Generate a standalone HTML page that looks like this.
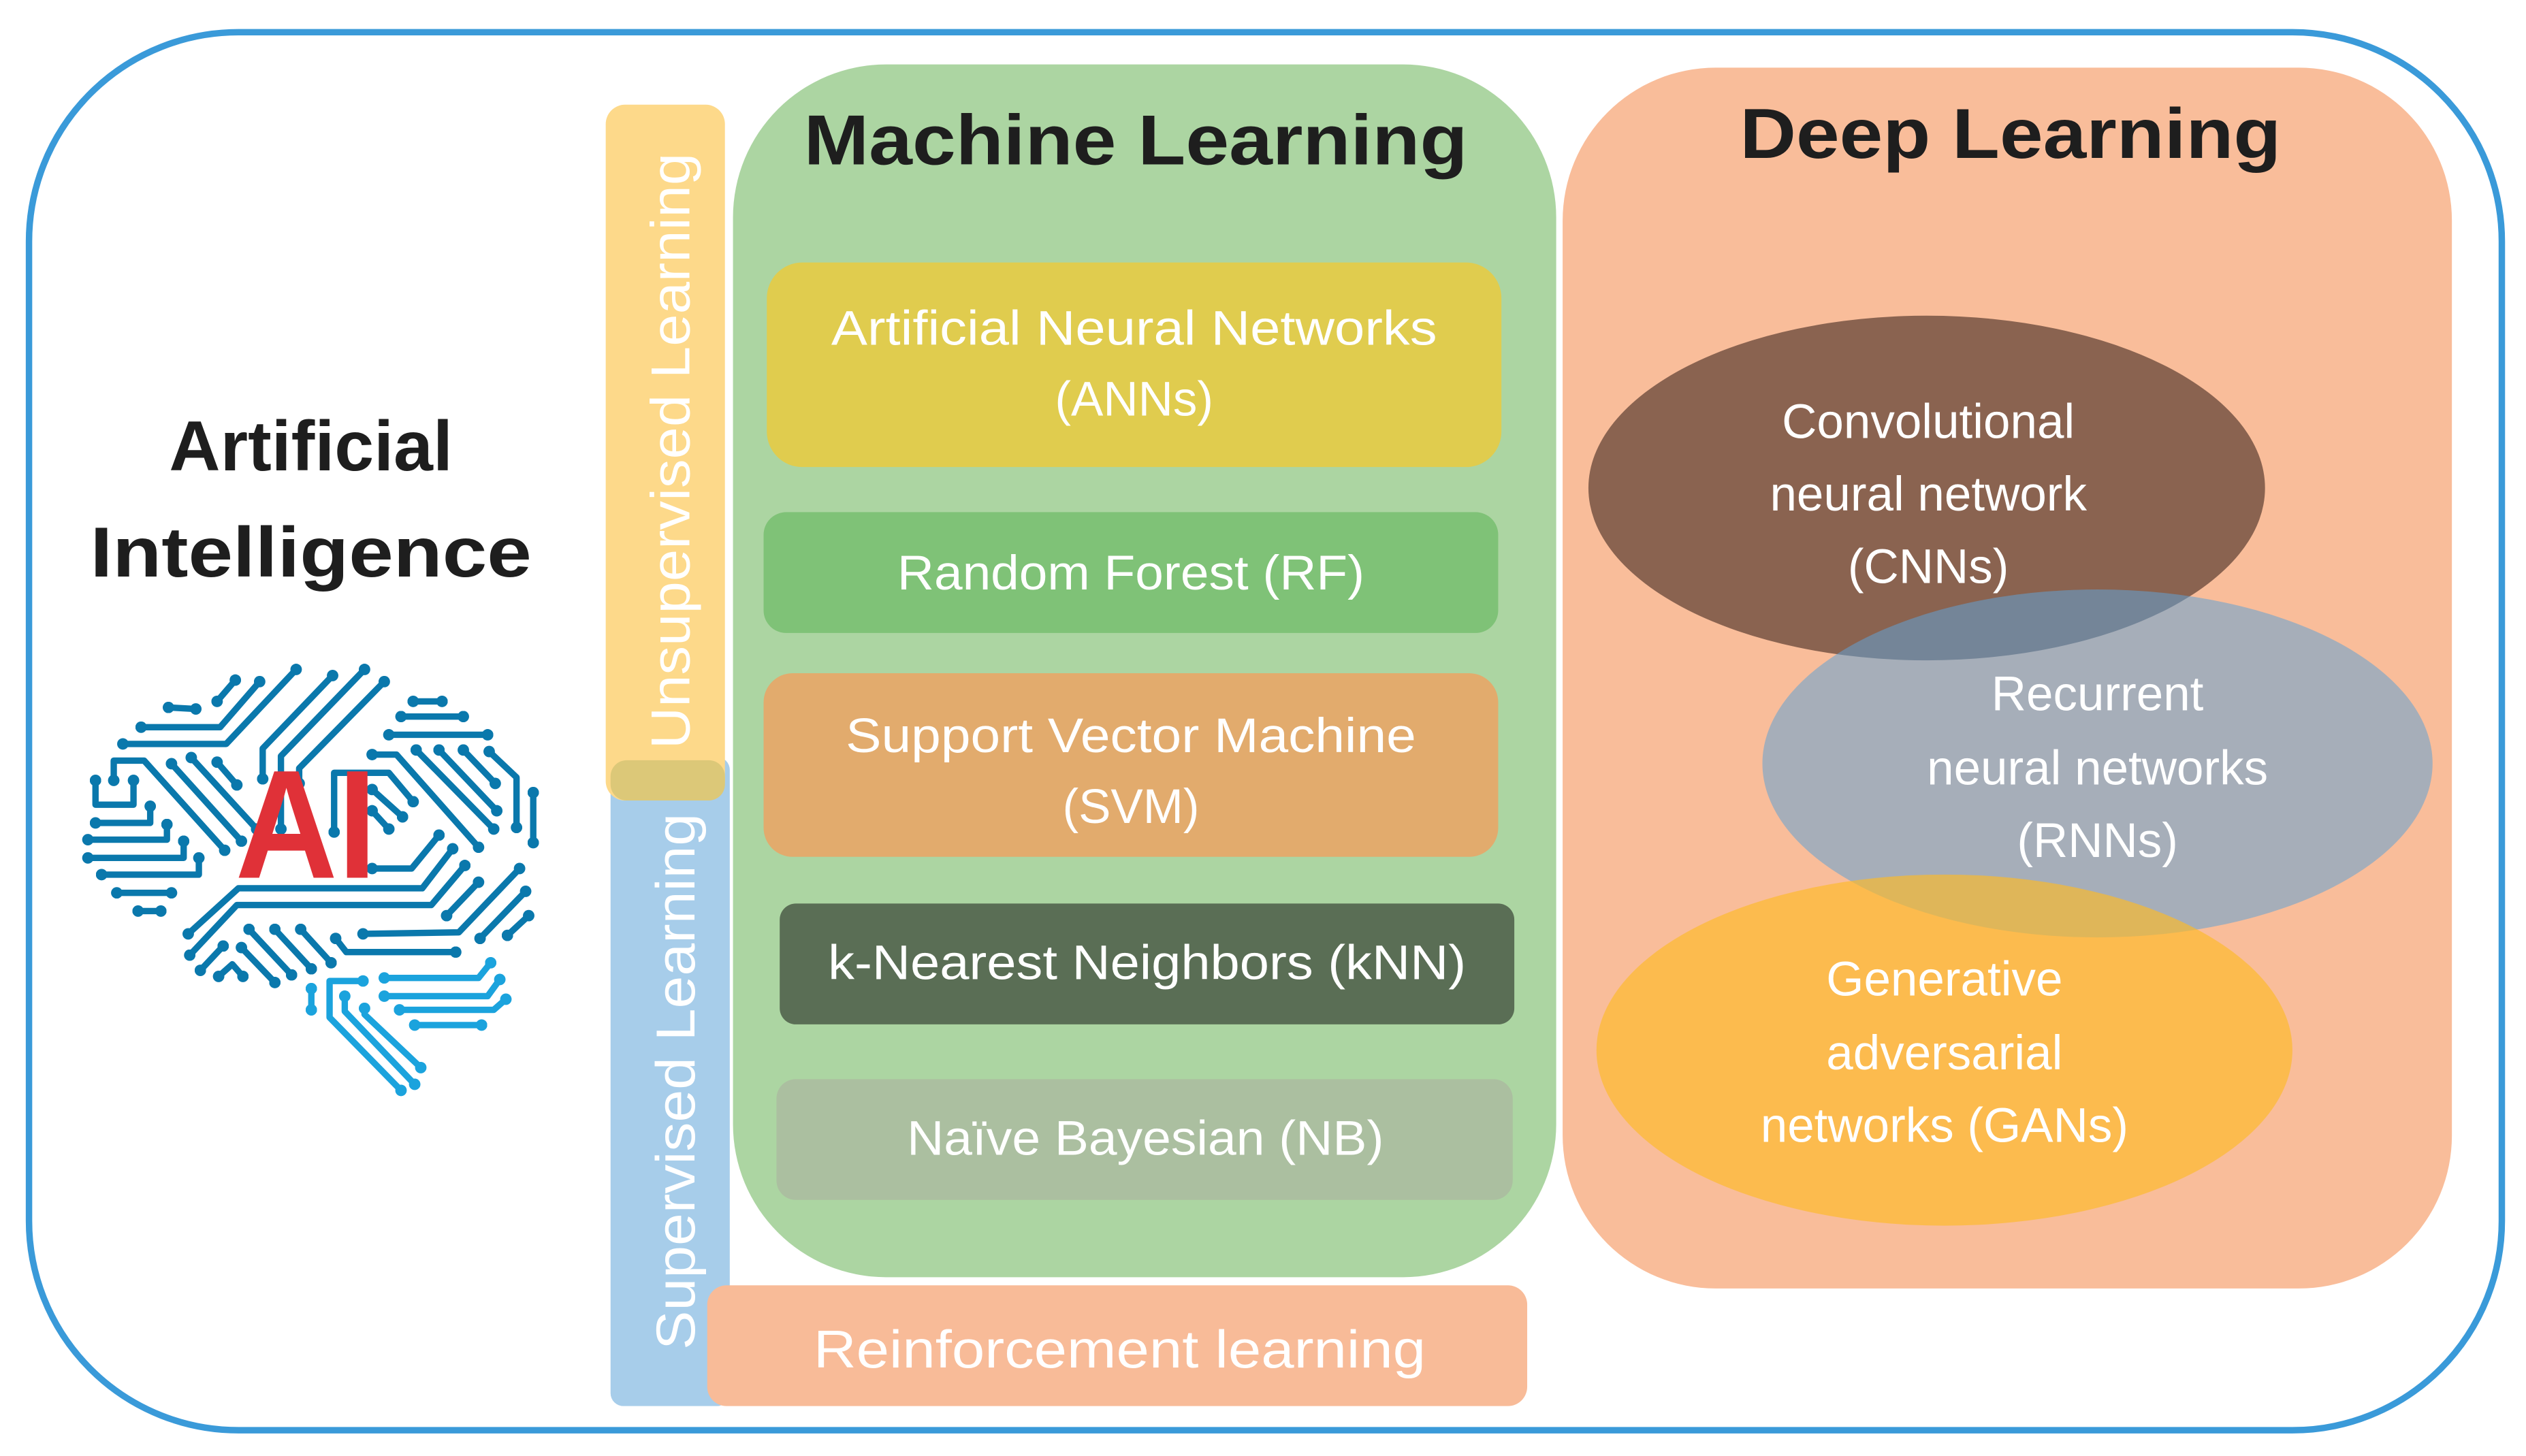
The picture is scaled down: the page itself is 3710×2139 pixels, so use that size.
<!DOCTYPE html>
<html><head><meta charset="utf-8"><style>
html,body{margin:0;padding:0;background:#fff;width:3710px;height:2139px;overflow:hidden}
svg{display:block}
text{font-family:"Liberation Sans",sans-serif}
</style></head><body>
<svg width="3710" height="2139" viewBox="0 0 1568 904" preserveAspectRatio="none" xmlns="http://www.w3.org/2000/svg">
<defs>
<marker id="d1" viewBox="-10 -10 20 20" markerWidth="1.8" markerHeight="1.8" markerUnits="strokeWidth"><circle r="10" fill="#0a78ac"/></marker>
<marker id="d2" viewBox="-10 -10 20 20" markerWidth="1.8" markerHeight="1.8" markerUnits="strokeWidth"><circle r="10" fill="#1ba3dd"/></marker>
</defs>
<rect x="18" y="20" width="1535" height="868" rx="130" ry="130" fill="#fff" stroke="#3a9ad9" stroke-width="4"/>

<text x="193" y="292" font-size="44" font-weight="bold" text-anchor="middle" fill="#1e1e1e">Artificial</text>
<text x="193" y="358" font-size="44" font-weight="bold" text-anchor="middle" fill="#1e1e1e" textLength="274" lengthAdjust="spacingAndGlyphs">Intelligence</text>

<g transform="translate(42.3,401.5) scale(0.1887)" fill="none" stroke-width="21" stroke-linejoin="round">
<g stroke="#0a78ac" marker-start="url(#d1)" marker-end="url(#d1)">
<polyline points="750,75 520,320 180,320"/>
<polyline points="630,115 500,265 240,265"/>
<polyline points="550,110 490,180"/>
<polyline points="330,200 420,205"/>
<polyline points="870,95 640,335 640,435"/>
<polyline points="975,75 700,360 700,600"/>
<polyline points="1040,115 760,400 760,450"/>
<polyline points="150,440 150,375 250,375 515,670"/>
<polyline points="340,385 570,640"/>
<polyline points="405,365 620,600"/>
<polyline points="490,380 555,455"/>
<polyline points="90,440 90,520 215,520 215,440"/>
<polyline points="90,580 270,580 270,525"/>
<polyline points="65,635 325,635 325,585"/>
<polyline points="65,695 380,695 380,640"/>
<polyline points="110,750 430,750 430,695"/>
<polyline points="160,810 340,810"/>
<polyline points="230,870 305,870"/>
<polyline points="1135,180 1230,180"/>
<polyline points="1095,230 1300,230"/>
<polyline points="1055,290 1380,290"/>
<polyline points="1000,355 1080,355 1350,660"/>
<polyline points="1145,340 1400,600"/>
<polyline points="1220,340 1410,540"/>
<polyline points="1300,340 1405,450"/>
<polyline points="1385,345 1475,430 1475,595"/>
<polyline points="1530,480 1530,645"/>
<polyline points="875,610 875,415 1055,415 1135,510"/>
<polyline points="1000,470 1100,560"/>
<polyline points="1000,540 1055,600"/>
<polyline points="1220,620 1130,730 1000,730"/>
<polyline points="1265,665 1165,795 560,795 395,945"/>
<polyline points="1305,720 1195,850 555,850 400,1015"/>
<polyline points="1350,775 1245,885"/>
<polyline points="1485,730 1285,940 970,945"/>
<polyline points="1505,805 1355,960"/>
<polyline points="1515,885 1445,950"/>
<polyline points="880,960 915,1005 1275,1005"/>
<polyline points="595,930 735,1080"/>
<polyline points="680,930 800,1060"/>
<polyline points="765,930 865,1040"/>
<polyline points="570,990 680,1105"/>
<polyline points="510,985 435,1065"/>
<polyline points="495,1085 540,1045 575,1085"/>
</g>
<g stroke="#1ba3dd" marker-start="url(#d2)" marker-end="url(#d2)">
<polyline points="970,1100 860,1100 860,1220 1095,1460"/>
<polyline points="910,1150 910,1200 1140,1440"/>
<polyline points="975,1190 975,1210 1160,1385"/>
<polyline points="800,1125 800,1195"/>
<polyline points="1040,1090 1350,1090 1390,1040"/>
<polyline points="1040,1150 1380,1150 1420,1095"/>
<polyline points="1090,1195 1400,1195 1440,1160"/>
<polyline points="1140,1245 1360,1245"/>
</g>
</g>
<text x="190" y="545" font-size="96" font-weight="bold" text-anchor="middle" fill="#e03138" textLength="88" lengthAdjust="spacingAndGlyphs">AI</text>

<rect x="379" y="470" width="74" height="403" rx="8" fill="#a7cdea"/>
<rect x="376" y="65" width="74" height="432" rx="12" fill="#fdd98a"/>
<rect x="379" y="472" width="71" height="25" rx="10" fill="#dcc878"/>
<text transform="translate(428,465) rotate(-90)" font-size="34" fill="#fff" textLength="370" lengthAdjust="spacingAndGlyphs">Unsupervised Learning</text>
<text transform="translate(431,838) rotate(-90)" font-size="34" fill="#fff" textLength="333" lengthAdjust="spacingAndGlyphs">Supervised Learning</text>

<rect x="455" y="40" width="511" height="753" rx="95" fill="#acd5a2"/>
<text x="705" y="102" font-size="44" font-weight="bold" text-anchor="middle" fill="#1e1e1e" textLength="412" lengthAdjust="spacingAndGlyphs">Machine Learning</text>
<rect x="476" y="163" width="456" height="127" rx="22" fill="#e0cc4e"/>
<text x="704" y="214" font-size="30" text-anchor="middle" fill="#fff" textLength="376" lengthAdjust="spacingAndGlyphs">Artificial Neural Networks</text>
<text x="704" y="258" font-size="30" text-anchor="middle" fill="#fff">(ANNs)</text>
<rect x="474" y="318" width="456" height="75" rx="14" fill="#7fc277"/>
<text x="702" y="366" font-size="30" text-anchor="middle" fill="#fff" textLength="290" lengthAdjust="spacingAndGlyphs">Random Forest (RF)</text>
<rect x="474" y="418" width="456" height="114" rx="18" fill="#e2ab6d"/>
<text x="702" y="467" font-size="30" text-anchor="middle" fill="#fff" textLength="354" lengthAdjust="spacingAndGlyphs">Support Vector Machine</text>
<text x="702" y="511" font-size="30" text-anchor="middle" fill="#fff">(SVM)</text>
<rect x="484" y="561" width="456" height="75" rx="10" fill="#5a6e55"/>
<text x="712" y="608" font-size="30" text-anchor="middle" fill="#fff" textLength="396" lengthAdjust="spacingAndGlyphs">k-Nearest Neighbors (kNN)</text>
<rect x="482" y="670" width="457" height="75" rx="12" fill="#abbfa0"/>
<text x="711" y="717" font-size="30" text-anchor="middle" fill="#fff" textLength="296" lengthAdjust="spacingAndGlyphs">Naïve Bayesian (NB)</text>

<rect x="439" y="798" width="509" height="75" rx="12" fill="#f8bb98"/>
<text x="695" y="849" font-size="33" text-anchor="middle" fill="#fff" textLength="380" lengthAdjust="spacingAndGlyphs">Reinforcement learning</text>

<rect x="970" y="42" width="552" height="758" rx="95" fill="#f9bd9a"/>
<text x="1248" y="98" font-size="44" font-weight="bold" text-anchor="middle" fill="#1e1e1e" textLength="336" lengthAdjust="spacingAndGlyphs">Deep Learning</text>
<ellipse cx="1196" cy="303" rx="210" ry="107" fill="#8a6350"/>
<ellipse cx="1302" cy="474" rx="208" ry="108" fill="rgb(98,162,212)" fill-opacity="0.55"/>
<ellipse cx="1207" cy="652" rx="216" ry="109" fill="rgb(254,186,37)" fill-opacity="0.65"/>
<g font-size="30" fill="#fff" text-anchor="middle">
<text x="1197" y="272">Convolutional</text>
<text x="1197" y="317">neural network</text>
<text x="1197" y="362">(CNNs)</text>
<text x="1302" y="441">Recurrent</text>
<text x="1302" y="487">neural networks</text>
<text x="1302" y="532">(RNNs)</text>
<text x="1207" y="618">Generative</text>
<text x="1207" y="664">adversarial</text>
<text x="1207" y="709">networks  (GANs)</text>
</g>
</svg>
</body></html>
